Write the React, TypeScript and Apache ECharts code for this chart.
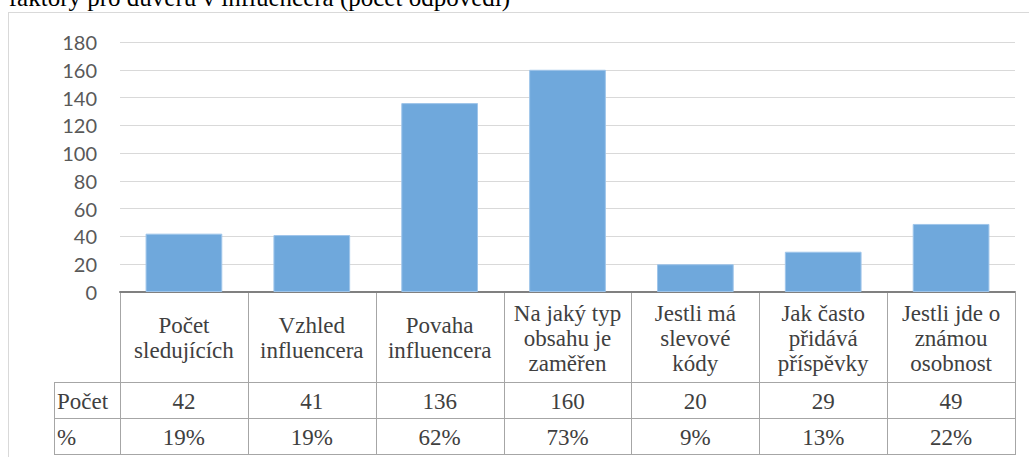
import React, { useEffect, useRef } from "react";
import * as echarts from "echarts";

const titleText = "faktory pro důvěru v influencera (počet odpovědí)";
const categories = [
  "Počet\nsledujících",
  "Vzhled\ninfluencera",
  "Povaha\ninfluencera",
  "Na jaký typ\nobsahu je\nzaměřen",
  "Jestli má\nslevové\nkódy",
  "Jak často\npřidává\npříspěvky",
  "Jestli jde o\nznámou\nosobnost",
];
const counts = [42, 41, 136, 160, 20, 29, 49];
const percents = [19, 19, 62, 73, 9, 13, 22];
const rowLabels = ["Počet", "%"];
const yMin = 0;
const yMax = 180;
const yInterval = 20;

const W = 1029;
const H = 457;
const GRID_L = 120;
const GRID_R = 1015;
const GRID_T = 42;
const GRID_B = 292;
const SERIF = "Liberation Serif";
const TEXT = "#404040";
const TABLE_LINE = "#a6a6a6";

export default function App() {
  const ref = useRef<HTMLDivElement>(null);
  useEffect(() => {
    if (!ref.current) return;
    const chart = echarts.init(ref.current, null, { renderer: "svg" });
    const colW = (GRID_R - GRID_L) / categories.length;
    const rowTop = [382, 418];
    const rowBot = [418, 455];
    const graphics: any[] = [];
    const line = (x1: number, y1: number, x2: number, y2: number, stroke: string, lw = 1) => ({
      type: "line",
      shape: { x1, y1, x2, y2 },
      style: { stroke, lineWidth: lw },
      silent: true,
    });
    graphics.push(line(8, 12.5, W, 12.5, "#d9d9d9"));
    graphics.push(line(8.5, 12, 8.5, H, "#d9d9d9"));
    graphics.push({
      type: "text",
      x: 510,
      y: 10,
      style: {
        text: titleText,
        fontFamily: SERIF,
        fontSize: 25,
        fill: "#000000",
        align: "right",
        verticalAlign: "bottom",
      },
    });
    [382.5, 418.5, 454.5].forEach((y) => graphics.push(line(54, y, GRID_R, y, TABLE_LINE)));
    graphics.push(line(54.5, 382, 54.5, 455, TABLE_LINE));
    for (let i = 0; i <= categories.length; i++) {
      const x = Math.round(GRID_L + i * colW) + 0.5;
      graphics.push(line(x, 293, x, 455, TABLE_LINE));
    }
    rowLabels.forEach((lab, r) => {
      graphics.push({
        type: "text",
        x: 57,
        y: (rowTop[r] + rowBot[r]) / 2 + 1,
        style: { text: lab, fontFamily: SERIF, fontSize: 23, fill: TEXT, align: "left", verticalAlign: "middle" },
      });
    });
    const rows = [counts.map((v) => String(v)), percents.map((v) => v + "%")];
    rows.forEach((vals, r) => {
      vals.forEach((v, i) => {
        graphics.push({
          type: "text",
          x: GRID_L + (i + 0.5) * colW,
          y: (rowTop[r] + rowBot[r]) / 2 + 1,
          style: { text: v, fontFamily: SERIF, fontSize: 23, fill: TEXT, align: "center", verticalAlign: "middle" },
        });
      });
    });

    chart.setOption({
      animation: false,
      backgroundColor: "#ffffff",
      grid: { left: GRID_L, right: W - GRID_R, top: GRID_T, bottom: H - GRID_B, containLabel: false },
      xAxis: {
        type: "category",
        data: categories,
        axisTick: { show: false },
        axisLine: { show: true, lineStyle: { color: "#808080", width: 2 } },
        axisLabel: {
          interval: 0,
          margin: 46,
          fontFamily: SERIF,
          fontSize: 23,
          lineHeight: 25,
          color: TEXT,
          verticalAlign: "middle",
          align: "center",
        },
      },
      yAxis: {
        type: "value",
        min: yMin,
        max: yMax,
        interval: yInterval,
        axisLine: { show: false },
        axisTick: { show: false },
        splitLine: { lineStyle: { color: "#d9d9d9", width: 1 } },
        axisLabel: { fontFamily: "Lato", fontSize: 20, color: "#595959", margin: 23 },
      },
      series: [
        {
          type: "bar",
          data: counts,
          barCategoryGap: "40%",
          itemStyle: { color: "#6fa8dc", borderColor: "#9fc5ea", borderWidth: 1 },
        },
      ],
      graphic: graphics,
    });
    return () => chart.dispose();
  }, []);
  return (
    <div
      ref={ref}
      style={{ position: "fixed", left: 0, top: 0, width: W, height: H, background: "#fff" }}
    />
  );
}
